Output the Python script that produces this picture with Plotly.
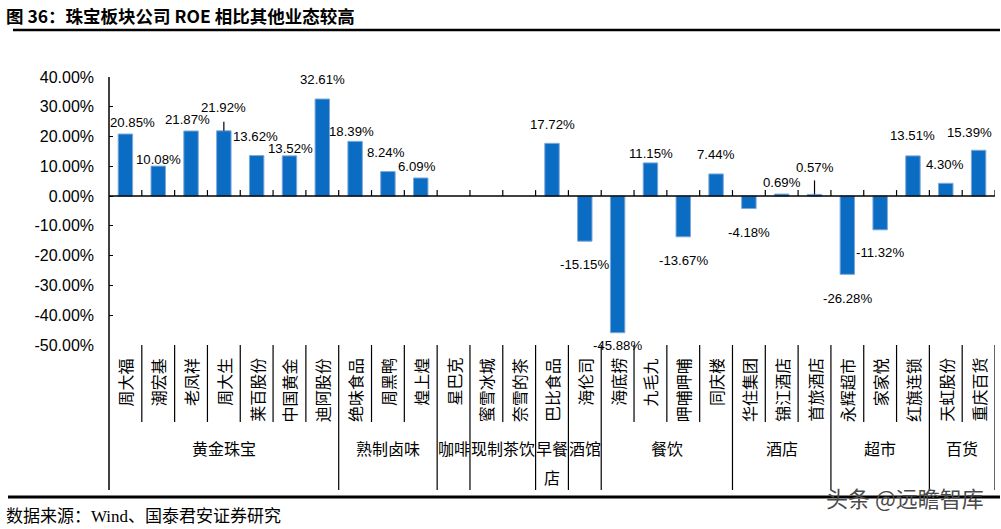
import plotly.graph_objects as go

# ---------------- data ----------------
companies = ["周大福", "潮宏基", "老凤祥", "周大生", "莱百股份", "中国黄金", "迪阿股份",
             "绝味食品", "周黑鸭", "煌上煌",
             "星巴克",
             "蜜雪冰城", "奈雪的茶",
             "巴比食品",
             "海伦司",
             "海底捞", "九毛九", "呷哺呷哺", "同庆楼",
             "华住集团", "锦江酒店", "首旅酒店",
             "永辉超市", "家家悦", "红旗连锁",
             "天虹股份", "重庆百货"]
roe = [20.85, 10.08, 21.87, 21.92, 13.62, 13.52, 32.61,
       18.39, 8.24, 6.09,
       None,
       None, None,
       17.72,
       -15.15,
       -45.88, 11.15, -13.67, 7.44,
       -4.18, 0.69, 0.57,
       -26.28, -11.32, 13.51,
       4.30, 15.39]
groups = ["黄金珠宝", "熟制卤味", "咖啡", "现制茶饮", "早餐店", "酒馆", "餐饮", "酒店", "超市", "百货"]
group_sizes = [7, 3, 1, 2, 1, 1, 4, 3, 3, 2]
ytick_vals = [40, 30, 20, 10, 0, -10, -20, -30, -40, -50]
ytick_text = ["40.00%", "30.00%", "20.00%", "10.00%", "0.00%",
              "-10.00%", "-20.00%", "-30.00%", "-40.00%", "-50.00%"]
title_text = "图 36：珠宝板块公司 ROE 相比其他业态较高"
source_text = "数据来源：Wind、国泰君安证券研究"
watermark_text = "头条 @远瞻智库"

# label placement (pixel offsets of label centre from bar end; style only)
label_dy = [12, 7, 11, 23, 19.5, 7, 20, 10, 19, 11, 0, 0, 0, 19, 23, 13, 9, 24, 19, 23.5, 11.5, 27, 24, 23, 20, 19, 18]
label_dx = [7, 0, -4, 0, -1, 1, 0, -4, -2, -4, 0, 0, 0, 0, 0, 0, 1, 0, 0, 0, 0, 0, 0, 0, 0, -1, -9]
leader_px = {3: 9, 21: 14}

# ---------------- geometry ----------------
W, H = 1001, 529
L, R, T, B = 109, 995, 77, 345
PW, PH = R - L, B - T
YMIN, YMAX = -50, 40
PXPER = PH / (YMAX - YMIN)


def px(x):
    return (x - L) / PW


def py(y):
    return (B - y) / PH


FONT = "Liberation Sans, Noto Sans CJK SC, sans-serif"
CJK = "Noto Sans CJK SC, Liberation Sans, sans-serif"
BLUE = "#0A6CC3"

fig = go.Figure()
fig.add_trace(go.Bar(x=companies, y=roe, marker=dict(color=BLUE, line=dict(color="#7FA8DA", width=1)),
                     hoverinfo="skip"))

shapes = []
annotations = []

# data labels
for i, (c, v) in enumerate(zip(companies, roe)):
    if v is None:
        continue
    sgn = 1 if v >= 0 else -1
    annotations.append(dict(x=c, y=v, xref="x", yref="y", text=f"{v:.2f}%", showarrow=False,
                            xanchor="center", yanchor="middle", yshift=sgn * label_dy[i], xshift=label_dx[i],
                            font=dict(family=FONT, size=13.2, color="black")))
    if i in leader_px:
        shapes.append(dict(type="line", xref="x", yref="y", x0=i, x1=i, y0=v, y1=v + leader_px[i] / PXPER,
                           line=dict(color="black", width=1.2)))

# zero line with upward ticks at boundaries
shapes.append(dict(type="line", xref="paper", yref="y", x0=0, x1=1, y0=0, y1=0,
                   line=dict(color="black", width=1.5)))
n = len(companies)
for b in range(n):
    xb = b + 0.5
    shapes.append(dict(type="line", xref="x", yref="y", x0=xb, x1=xb, y0=0, y1=6 / PXPER,
                       line=dict(color="black", width=1.2)))

# left axis line (extends into category area)
shapes.append(dict(type="line", xref="paper", yref="paper", x0=0, x1=0, y0=py(490), y1=1,
                   line=dict(color="black", width=1.5)))

# category separators and group separators
group_bounds = set()
acc = 0
for s in group_sizes:
    acc += s
    group_bounds.add(acc)
for b in range(1, n + 1):
    xb = b - 0.5
    yend = py(490) if b in group_bounds else py(422)
    shapes.append(dict(type="line", xref="x", yref="paper", x0=xb, x1=xb, y0=0, y1=yend,
                       line=dict(color="black", width=1.2)))

# rotated category labels
for c in companies:
    annotations.append(dict(x=c, y=py(356), xref="x", yref="paper", text=c, showarrow=False,
                            textangle=-90, xanchor="center", yanchor="top",
                            font=dict(family=CJK, size=16, color="black")))

# group labels
start = 0
for g, s in zip(groups, group_sizes):
    xc = start + (s - 1) / 2
    if g == "早餐店":
        annotations.append(dict(x=xc, y=py(448), xref="x", yref="paper", text="早餐", showarrow=False,
                                xanchor="center", yanchor="middle", font=dict(family=CJK, size=16, color="black")))
        annotations.append(dict(x=xc, y=py(477), xref="x", yref="paper", text="店", showarrow=False,
                                xanchor="center", yanchor="middle", font=dict(family=CJK, size=16, color="black")))
    else:
        annotations.append(dict(x=xc, y=py(448), xref="x", yref="paper", text=g, showarrow=False,
                                xanchor="center", yanchor="middle", font=dict(family=CJK, size=16, color="black")))
    start += s

# title, rules, footer, watermark
annotations.append(dict(x=px(4), y=py(16), xref="paper", yref="paper", text="<b>" + title_text + "</b>",
                        showarrow=False, xanchor="left", yanchor="middle",
                        font=dict(family="Noto Sans CJK SC, Liberation Serif", size=17.5, color="black")))
shapes.append(dict(type="line", xref="paper", yref="paper", x0=px(13), x1=px(1000), y0=py(30), y1=py(30),
                   line=dict(color="black", width=2.5)))
shapes.append(dict(type="line", xref="paper", yref="paper", x0=px(8), x1=px(1000), y0=py(497), y1=py(497),
                   line=dict(color="black", width=3)))
annotations.append(dict(x=px(4), y=py(516), xref="paper", yref="paper", text=source_text,
                        showarrow=False, xanchor="left", yanchor="middle",
                        font=dict(family="Liberation Serif, Noto Sans CJK SC", size=17, color="black")))
annotations.append(dict(x=px(986), y=py(497), xref="paper", yref="paper", text=watermark_text,
                        showarrow=False, xanchor="right", yanchor="middle",
                        font=dict(family=CJK, size=22, color="#4a4a4a")))

fig.update_layout(
    width=W, height=H, autosize=False,
    margin=dict(l=L, r=W - R, t=T, b=H - B, pad=0),
    paper_bgcolor="white", plot_bgcolor="white",
    showlegend=False, bargap=0.56,
    shapes=shapes, annotations=annotations,
    xaxis=dict(range=[-0.5, n - 0.5], showticklabels=False, showgrid=False, zeroline=False,
               showline=False, ticks="", fixedrange=True),
    yaxis=dict(range=[YMIN, YMAX], tickvals=ytick_vals, ticktext=ytick_text, showgrid=False,
               zeroline=False, showline=False, ticks="inside", ticklen=4, tickcolor="black", tickwidth=1.2,
               ticklabelstandoff=14, tickfont=dict(family=FONT, size=16, color="black"), fixedrange=True),
)

fig.write_html("out.html", config={"displayModeBar": False},
               post_script="document.body.style.margin='0';document.body.style.overflow='hidden';")
